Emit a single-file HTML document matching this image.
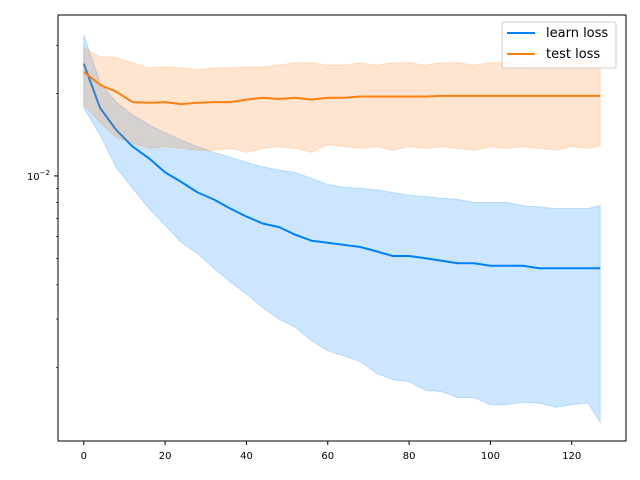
<!DOCTYPE html>
<html><head><meta charset="utf-8"><style>
body{margin:0;background:#fff}
svg{display:block;font-family:"DejaVu Sans","Liberation Sans",sans-serif}
</style></head><body>
<svg id="chart" width="640" height="480" xmlns="http://www.w3.org/2000/svg">
<rect width="640" height="480" fill="#fff"/>
<g id="plot"></g>
<g id="axes"></g>
</svg>
<script>
const xs=[0,4,8,12,16,20,24,28,32,36,40,44,48,52,56,60,64,68,72,76,80,84,88,92,96,100,104,108,112,116,120,124,127];
const learnMean=[25.7,17.7,14.7,12.8,11.6,10.3,9.5,8.7,8.2,7.6,7.1,6.7,6.5,6.1,5.8,5.7,5.6,5.5,5.3,5.1,5.1,5.0,4.9,4.8,4.8,4.7,4.7,4.7,4.6,4.6,4.6,4.6,4.6];
const learnUpper=[32.7,22.0,18.6,16.7,15.4,14.4,13.5,12.8,12.2,11.7,11.2,10.8,10.5,10.3,9.8,9.3,9.1,9.0,8.9,8.7,8.5,8.4,8.3,8.2,8.0,8.0,8.0,7.8,7.7,7.6,7.6,7.6,7.8];
const learnLower=[17.7,14.1,10.7,9.0,7.6,6.6,5.7,5.2,4.6,4.1,3.7,3.3,3.0,2.8,2.5,2.3,2.2,2.1,1.9,1.8,1.77,1.65,1.63,1.55,1.55,1.46,1.46,1.49,1.48,1.43,1.46,1.48,1.26];
const testMean=[24.0,21.5,20.3,18.6,18.5,18.6,18.3,18.5,18.6,18.6,19.0,19.3,19.1,19.3,19.0,19.3,19.3,19.5,19.5,19.5,19.5,19.5,19.6,19.6,19.6,19.6,19.6,19.6,19.6,19.6,19.6,19.6,19.6];
const testUpper=[29.4,27.2,27.0,25.9,24.8,25.0,24.8,24.4,24.8,24.8,25.0,25.0,25.4,25.9,25.9,25.4,25.4,25.9,25.4,25.9,25.9,25.4,25.9,25.9,25.4,25.9,25.9,25.4,26.3,25.9,26.3,26.3,26.3];
const testLower=[18.2,15.7,13.8,13.2,12.6,12.8,12.6,12.4,12.4,12.6,12.2,12.6,12.8,12.6,12.2,13.0,12.8,12.6,12.8,12.4,12.8,12.6,12.8,12.6,12.4,12.8,12.6,12.8,12.6,12.4,12.8,12.6,12.9];
const xTicks=[0,20,40,60,80,100,120];
const valueUnit=1e-3;

const NS="http://www.w3.org/2000/svg";
const L=58,R=626,T=15,B=441;
const xMin=-6.35,xMax=133.35;
const yMin=1.076e-3,yMax=3.87e-2;
const X=v=>L+(v-xMin)/(xMax-xMin)*(R-L);
const Y=v=>B-(Math.log10(v)-Math.log10(yMin))/(Math.log10(yMax)-Math.log10(yMin))*(B-T);
const plot=document.getElementById('plot'),axes=document.getElementById('axes');
function mk(tag,attrs,parent){const e=document.createElementNS(NS,tag);for(const k in attrs)e.setAttribute(k,attrs[k]);parent.appendChild(e);return e;}

function band(up,lo,color,name){
  let d=xs.map((x,i)=>(i?'L':'M')+X(x).toFixed(1)+','+Y(up[i]*valueUnit).toFixed(1)).join('');
  for(let i=xs.length-1;i>=0;i--)d+='L'+X(xs[i]).toFixed(1)+','+Y(lo[i]*valueUnit).toFixed(1);
  const p=mk('path',{d:d+'Z',fill:color,'fill-opacity':0.2,stroke:color,'stroke-opacity':0.2},plot);
  
  
}
function line(m,color,name){
  const d=xs.map((x,i)=>(i?'L':'M')+X(x).toFixed(1)+','+Y(m[i]*valueUnit).toFixed(1)).join('');
  const p=mk('path',{d:d,fill:'none',stroke:color,'stroke-width':2,'stroke-linejoin':'round'},plot);
  
  
}
band(learnUpper,learnLower,'#0080ff','learn-loss-band');
line(learnMean,'#0080ff','learn-loss-line');
band(testUpper,testLower,'#ff7f0e','test-loss-band');
line(testMean,'#ff7f0e','test-loss-line');

// frame
const fr=mk('rect',{x:L,y:T,width:R-L,height:B-T,fill:'none',stroke:'#000','stroke-width':1},axes);


// x ticks
xTicks.forEach(t=>{
  const x=X(t);
  mk('line',{x1:x,x2:x,y1:B,y2:B+4,stroke:'#000'},axes);
  const tx=mk('text',{x:x,y:B+18,'text-anchor':'middle','font-size':10},axes);
  tx.textContent=t;
  
  
});
// y ticks
mk('line',{x1:L-4,x2:L,y1:Y(0.01),y2:Y(0.01),stroke:'#000'},axes);
const yl=mk('text',{x:L-8,y:Y(0.01)+4,'text-anchor':'end','font-size':10},axes);
yl.innerHTML='10<tspan dy="-5" font-size="7">−2</tspan>';


[2e-3,3e-3,4e-3,5e-3,6e-3,7e-3,8e-3,9e-3,2e-2,3e-2].forEach(v=>{
  const y=Y(v);mk('line',{x1:L-2,x2:L,y1:y,y2:y,stroke:'#000','stroke-width':0.7},axes);
});
// legend
const lg=mk('g',{},axes);


mk('rect',{x:502,y:22,width:114,height:46,rx:2,fill:'#fff','fill-opacity':0.8,stroke:'#ccc'},lg);
[['learn loss','#0080ff',33],['test loss','#ff7f0e',54]].forEach(([t,c,y])=>{
  const g=mk('g',{},lg);
  
  
  mk('line',{x1:507,x2:535,y1:y,y2:y,stroke:c,'stroke-width':2},g);
  const tx=mk('text',{x:546,y:y+4,'font-size':13},g);
  tx.textContent=t;
});
</script>
</body></html>
